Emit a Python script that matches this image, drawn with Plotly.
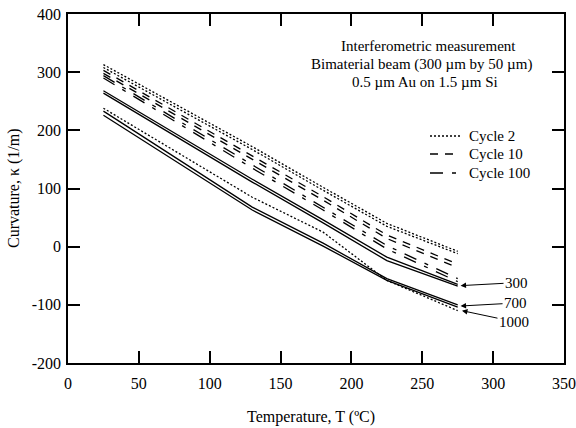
import plotly.graph_objects as go

# ---- data ----
temps = [25, 130, 180, 225, 275]

cycle2_a = [313, 172, 102, 40, -8]
cycle2_b = [308, 167, 97, 35, -12]
cycle10_a = [303, 157, 86, 20, -30]
cycle10_b = [298, 151, 80, 14, -36]
cycle100_a = [294, 140, 68, 2, -55]
cycle100_b = [290, 135, 63, -4, -60]
cycle300_a = [268, 116, 46, -18, -65]
cycle300_b = [264, 111, 41, -24, -68]
cycle700_a = [233, 68, 6, -55, -100]
cycle700_b = [226, 63, 1, -58, -104]
cycle1000 = [238, 85, 25, -58, -110]

x_ticks = [0, 50, 100, 150, 200, 250, 300, 350]
y_ticks = [-200, -100, 0, 100, 200, 300, 400]
y_tick_text = ["-200", "-100", "0", "100", "200", "300", "400"]

legend_names = ["Cycle 2", "Cycle 10", "Cycle 100"]

FONT = "Liberation Serif, Times New Roman, serif"

DOT = "2px,2px"
DASH = "8px,7px"
LONGDASH = "13px,9px,4px,9px"

series = [
    ("Cycle 2", cycle2_a, DOT),
    ("Cycle 2", cycle2_b, DOT),
    ("Cycle 10", cycle10_a, DASH),
    ("Cycle 10", cycle10_b, DASH),
    ("Cycle 100", cycle100_a, LONGDASH),
    ("Cycle 100", cycle100_b, LONGDASH),
    ("Cycle 300", cycle300_a, "solid"),
    ("Cycle 300", cycle300_b, "solid"),
    ("Cycle 700", cycle700_a, "solid"),
    ("Cycle 700", cycle700_b, "solid"),
    ("Cycle 1000", cycle1000, DOT),
]

fig = go.Figure()
for name, vals, dash in series:
    fig.add_trace(go.Scatter(
        x=temps, y=vals, mode="lines", name=name, showlegend=False,
        line=dict(color="black", width=1.3, dash=dash),
    ))

axis_common = dict(
    showline=True, linecolor="black", linewidth=1.5, mirror="ticks",
    ticks="inside", ticklen=12, tickwidth=1.5, tickcolor="black",
    showgrid=False, zeroline=False, automargin=False,
    tickfont=dict(family=FONT, size=16, color="black"),
)

fig.update_xaxes(range=[0, 350], tickvals=x_ticks, ticklabelstandoff=5, **axis_common)
fig.update_yaxes(range=[-200, 400], tickvals=y_ticks, ticktext=y_tick_text,
                 ticklabelstandoff=2, **axis_common)

W, H = 576, 428
L, R, T, B = 68, 12, 14, 65
pw, ph = W - L - R, H - T - B


def px(xp):
    return (xp - L) / pw


def py(yp):
    return (H - B - yp) / ph


annotations = [
    dict(text="Interferometric measurement", x=428, y=46),
    dict(text="Bimaterial beam (300 \u00b5m by 50 \u00b5m)", x=421, y=64),
    dict(text="0.5 \u00b5m Au on 1.5 \u00b5m Si", x=425, y=82),
]
for a in annotations:
    fig.add_annotation(
        text=a["text"], xref="paper", yref="paper", x=px(a["x"]), y=py(a["y"]),
        xanchor="center", yanchor="middle", showarrow=False,
        font=dict(family=FONT, size=15, color="black"),
    )

# axis titles
fig.add_annotation(text="Temperature, T (\u00baC)", xref="paper", yref="paper",
                   x=px(311), y=py(417), xanchor="center", yanchor="middle",
                   showarrow=False, font=dict(family=FONT, size=16, color="black"))
fig.add_annotation(text="Curvature, \u03ba (1/m)", xref="paper", yref="paper",
                   x=px(14), y=py(188), xanchor="center", yanchor="middle",
                   textangle=-90, showarrow=False, font=dict(family=FONT, size=16, color="black"))

# legend (drawn by hand to match the compact spacing of the original)
legend_dashes = [DOT, DASH, LONGDASH]
legend_rows = [136, 154, 173]
for name, dash, yr in zip(legend_names, legend_dashes, legend_rows):
    fig.add_shape(type="line", xref="paper", yref="paper",
                  x0=px(430), x1=px(460), y0=py(yr), y1=py(yr),
                  line=dict(color="black", width=1.3, dash=dash))
    fig.add_annotation(text=name, xref="paper", yref="paper", x=px(467), y=py(yr),
                       xanchor="left", yanchor="middle", showarrow=False,
                       font=dict(family=FONT, size=15, color="black"))

# cycle labels with arrows
labels = [("300", 277, -67, 56, -3), ("700", 277, -102, 55, -3), ("1000", 278, -110, 52, 11)]
for txt, xv, yv, ax, ay in labels:
    fig.add_annotation(text=txt, x=xv, y=yv, xref="x", yref="y", ax=ax, ay=ay,
                       showarrow=True, arrowhead=2, arrowsize=1.1, arrowwidth=1,
                       arrowcolor="black", standoff=0,
                       font=dict(family=FONT, size=15, color="black"))

fig.update_layout(
    width=W, height=H,
    margin=dict(l=L, r=R, t=T, b=B, autoexpand=False),
    paper_bgcolor="white", plot_bgcolor="white",
    font=dict(family=FONT, size=15, color="black"),
    showlegend=False,
)

fig.write_html("out.html", config={"displayModeBar": False},
               post_script="document.body.style.margin='0px';")
